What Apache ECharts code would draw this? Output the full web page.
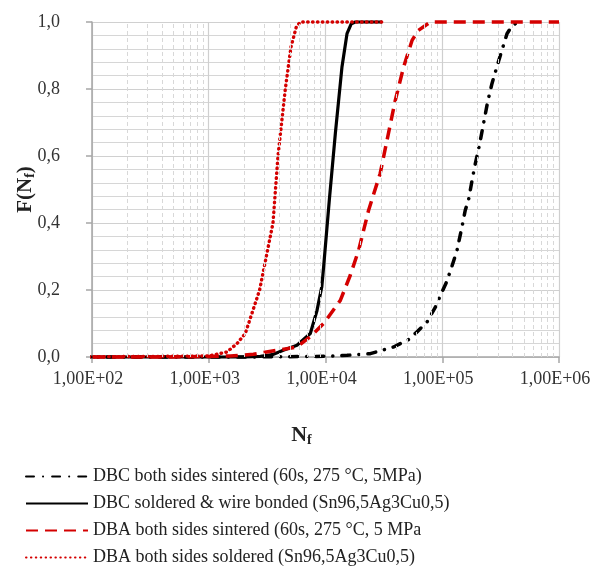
<!DOCTYPE html>
<html>
<head>
<meta charset="utf-8">
<script src="https://cdn.jsdelivr.net/npm/echarts@6/dist/echarts.min.js"></script>
<style>
  html, body { margin: 0; padding: 0; background: #fff; }
  #chart { width: 592px; height: 567px; }
</style>
</head>
<body>
<div id="chart"></div>
<script>
// cycles to failure N_f vs cumulative failure probability F(N_f)
const seriesNames = [
  'DBC both sides sintered (60s, 275 °C, 5MPa)',
  'DBC soldered & wire bonded (Sn96,5Ag3Cu0,5)',
  'DBA both sides sintered (60s, 275 °C, 5 MPa',
  'DBA both sides soldered (Sn96,5Ag3Cu0,5)'
]

const dbcSinteredN = [48, 2000, 10300, 15300, 24200, 38300, 51500, 60800, 74000, 87300, 98200, 107700, 119600, 133700, 147500, 157400, 168200, 177400, 189200, 208800, 225800, 244300, 266500, 303600, 358600, 398000, 450900]
const dbcSinteredF = [0, 0, 0.002, 0.005, 0.01, 0.03, 0.052, 0.075, 0.104, 0.149, 0.19, 0.22, 0.265, 0.318, 0.388, 0.438, 0.47, 0.515, 0.567, 0.635, 0.697, 0.76, 0.816, 0.883, 0.965, 0.99, 1.0]

const dbcSolderedN = [48, 2000, 2770, 3500, 4350, 5700, 7410, 8460, 9300, 9640, 10790, 12140, 13840, 15280, 16640, 18000, 30500]
const dbcSolderedF = [0, 0, 0.002, 0.007, 0.02, 0.035, 0.07, 0.139, 0.21, 0.27, 0.47, 0.667, 0.866, 0.965, 0.995, 1.0, 1.0]

const dbaSinteredN = [48, 469, 1530, 2410, 3850, 5700, 7660, 9640, 13400, 16300, 19200, 23400, 29400, 33600, 39600, 46700, 55100, 62400, 79000, 1000000]
const dbaSinteredF = [0, 0, 0.003, 0.008, 0.02, 0.03, 0.065, 0.1, 0.169, 0.244, 0.318, 0.438, 0.548, 0.646, 0.766, 0.866, 0.945, 0.975, 1.0, 1.0]

const dbaSolderedN = [48, 1000, 1432, 1746, 2055, 2727, 3550, 3917, 4527, 5060, 5620, 6085, 30700]
const dbaSolderedF = [0, 0.003, 0.015, 0.04, 0.07, 0.2, 0.4, 0.6, 0.8, 0.925, 0.985, 1.0, 1.0]

const xTickLabels = ['1,00E+02', '1,00E+03', '1,00E+04', '1,00E+05', '1,00E+06']
const decades = [100, 1000, 10000, 100000]
const minorSteps = [2, 3, 4, 5, 6, 7, 8, 9]

const pairs = (xs, ys) => xs.map((x, i) => [x, ys[i]])

const red = '#d40000'
const serif = '"Liberation Serif", "Times New Roman", serif'

const minorLines = []
decades.forEach(d => minorSteps.forEach(m => minorLines.push({ xAxis: d * m })))

const chart = echarts.init(document.getElementById('chart'))

const lineBase = {
  type: 'line',
  symbol: 'none',
  smooth: false,
  clip: false,
  silent: true,
  animation: false
}

chart.setOption({
  animation: false,
  textStyle: { fontFamily: serif },
  grid: { left: 92, right: 33, top: 22, bottom: 210, outerBoundsMode: 'none' },
  legend: {
    orient: 'vertical',
    left: 20,
    top: 461,
    height: 120,
    itemWidth: 62,
    itemHeight: 10,
    itemGap: 6,
    itemStyle: { opacity: 0 },
    textStyle: { fontFamily: serif, fontSize: 18, color: '#222', lineHeight: 21 },
    data: seriesNames
  },
  xAxis: {
    type: 'log',
    logBase: 10,
    min: 100,
    max: 1000000,
    name: '{n|N}{s|f}',
    nameLocation: 'middle',
    nameGap: 66,
    nameMoveOverlap: false,
    nameTextStyle: {
      padding: [0, 48, 0, 0],
      rich: {
        n: { fontFamily: serif, fontSize: 22, fontWeight: 'bold', color: '#222' },
        s: { fontFamily: serif, fontSize: 14, fontWeight: 'bold', color: '#222', padding: [10, 0, 0, 0] }
      }
    },
    axisLine: { lineStyle: { color: '#a6a6a6', width: 1.5 } },
    axisTick: { show: true, length: 6, lineStyle: { color: '#a6a6a6', width: 1.5 } },
    axisLabel: {
      fontFamily: serif,
      fontSize: 18,
      color: '#333',
      margin: 13,
      padding: [0, 8, 0, 0],
      formatter: v => xTickLabels[Math.round(Math.log10(v)) - 2]
    },
    splitLine: { show: true, lineStyle: { color: '#cfcfcf', width: 1.2 } },
    minorTick: { show: false },
    minorSplitLine: { show: false }
  },
  yAxis: {
    type: 'value',
    min: 0,
    max: 1,
    interval: 0.2,
    name: '{n|F(N}{s|f}{n|)}',
    nameLocation: 'middle',
    nameGap: 55,
    nameMoveOverlap: false,
    nameRotate: 90,
    nameTextStyle: {
      rich: {
        n: { fontFamily: serif, fontSize: 21, fontWeight: 'bold', color: '#222' },
        s: { fontFamily: serif, fontSize: 14, fontWeight: 'bold', color: '#222', padding: [8, 0, 0, 0] }
      }
    },
    axisLine: { show: true, lineStyle: { color: '#a6a6a6', width: 1.5 } },
    axisTick: { show: true, length: 6, lineStyle: { color: '#a6a6a6', width: 1.5 } },
    axisLabel: {
      fontFamily: serif,
      fontSize: 18,
      color: '#333',
      margin: 32,
      formatter: v => v.toFixed(1).replace('.', ',')
    },
    splitLine: { show: true, lineStyle: { color: '#d0d0d0', width: 1.2 } },
    minorTick: { show: false, splitNumber: 5 },
    minorSplitLine: { show: true, lineStyle: { color: '#d6d6d6', width: 1.2 } }
  },
  series: [
    {
      // log-spaced minor vertical gridlines (2..9 per decade)
      ...lineBase,
      name: 'grid',
      data: [],
      markLine: {
        silent: true,
        symbol: 'none',
        label: { show: false },
        lineStyle: { color: '#d8d8d8', width: 1, type: [4, 3] },
        data: minorLines
      }
    },
    {
      ...lineBase,
      name: seriesNames[0],
      data: pairs(dbcSinteredN, dbcSinteredF),
      lineStyle: { color: '#000', width: 3.5, type: [8, 9, 0.1, 9], cap: 'round' },
      itemStyle: { color: '#000' }
    },
    {
      ...lineBase,
      name: seriesNames[1],
      data: pairs(dbcSolderedN, dbcSolderedF),
      lineStyle: { color: '#000', width: 3.2 },
      itemStyle: { color: '#000' }
    },
    {
      ...lineBase,
      name: seriesNames[2],
      data: pairs(dbaSinteredN, dbaSinteredF),
      lineStyle: { color: red, width: 3.5, type: [12, 7], cap: 'butt' },
      itemStyle: { color: red }
    },
    {
      ...lineBase,
      name: seriesNames[3],
      data: pairs(dbaSolderedN, dbaSolderedF),
      lineStyle: { color: red, width: 3.4, type: [0.5, 4.4], cap: 'round' },
      itemStyle: { color: red }
    }
  ]
})
</script>
</body>
</html>
